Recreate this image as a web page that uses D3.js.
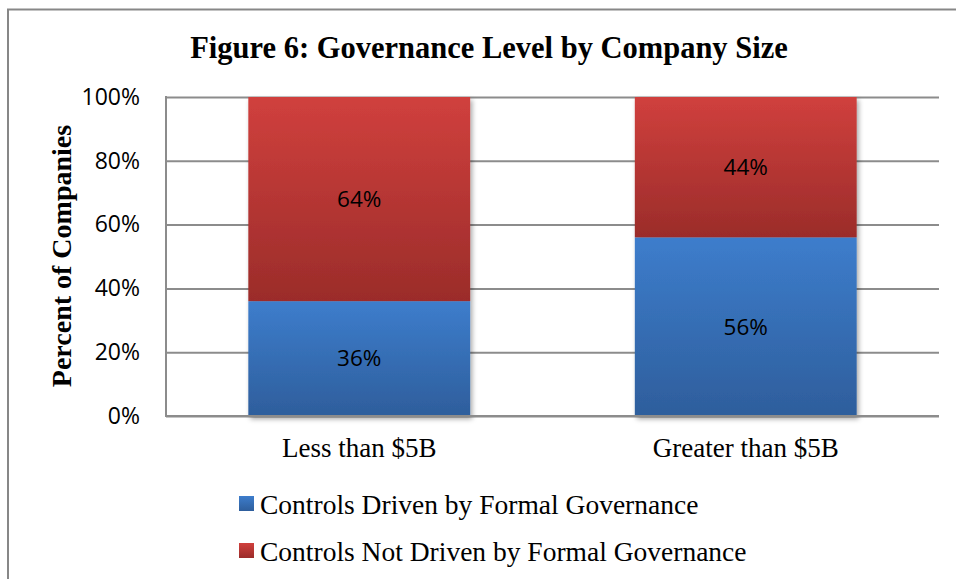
<!DOCTYPE html>
<html><head><meta charset="utf-8">
<script src="https://cdn.jsdelivr.net/npm/d3@7"></script>
<style>body{margin:0;background:#fff;overflow:hidden}</style>
</head><body><svg id="c" width="956" height="579"></svg>
<script>
const title = "Figure 6: Governance Level by Company Size";
const yAxisTitle = "Percent of Companies";
const categories = ["Less than $5B", "Greater than $5B"];
const seriesNames = ["Controls Driven by Formal Governance", "Controls Not Driven by Formal Governance"];
const drivenValues = [36, 56];
const notDrivenValues = [64, 44];
const yTickValues = [0, 20, 40, 60, 80, 100];

const svg = d3.select("#c");
const plot = {left: 166, right: 939, top: 97, bottom: 416};

// outer chart border (clipped at right/bottom in reference)
svg.append("rect").attr("x", 8).attr("y", 9.5).attr("width", 960).attr("height", 600)
  .attr("fill", "none").attr("stroke", "#878787").attr("stroke-width", 2);

const defs = svg.append("defs");
function grad(id, top, bottom) {
  const g = defs.append("linearGradient").attr("id", id).attr("x1", 0).attr("y1", 0).attr("x2", 0).attr("y2", 1);
  g.append("stop").attr("offset", "0%").attr("stop-color", top);
  g.append("stop").attr("offset", "100%").attr("stop-color", bottom);
}
grad("gBlue", "#3d7dcc", "#2e5e9c");
grad("gRed", "#d0403d", "#9b2c2a");
const f = defs.append("filter").attr("id", "shadow").attr("x", "-10%").attr("y", "-10%").attr("width", "130%").attr("height", "130%");
f.append("feDropShadow").attr("dx", 2).attr("dy", 3).attr("stdDeviation", 2.5).attr("flood-color", "#000").attr("flood-opacity", 0.35);

const x = d3.scaleBand().domain(categories).range([plot.left, plot.right]).paddingInner(0.426).paddingOuter(0.213);
const y = d3.scaleLinear().domain([0, 100]).range([plot.bottom, plot.top]);

// gridlines + y axis
const yAxis = d3.axisLeft(y).tickValues(yTickValues).tickFormat(d => d + "%")
  .tickSize(-(plot.right - plot.left)).tickPadding(26);
const ga = svg.append("g").attr("transform", `translate(${plot.left},0)`).call(yAxis);
ga.select(".domain").remove();
ga.selectAll(".tick line").attr("stroke", "#8c8c8c").attr("stroke-width", 2);
ga.selectAll(".tick text").attr("fill", "#000").style("font-family", "'Open Sans', sans-serif").style("font-size", "23px");
svg.append("line").attr("x1", plot.left).attr("x2", plot.left).attr("y1", plot.top - 1).attr("y2", plot.bottom + 1)
  .attr("stroke", "#8c8c8c").attr("stroke-width", 2);

// stacked bars
const rows = categories.map((c, i) => ({cat: c, vals: [drivenValues[i], notDrivenValues[i]]}));
const fills = ["url(#gBlue)", "url(#gRed)"];
const barG = svg.append("g");
rows.forEach(r => {
  const g = barG.append("g").attr("filter", "url(#shadow)");
  let cum = 0;
  r.vals.forEach((v, k) => {
    g.append("rect").attr("x", x(r.cat)).attr("width", x.bandwidth())
      .attr("y", y(cum + v)).attr("height", y(cum) - y(cum + v)).attr("fill", fills[k]);
    cum += v;
  });
});
svg.append("line").attr("x1", plot.left).attr("x2", plot.right).attr("y1", plot.bottom).attr("y2", plot.bottom)
  .attr("stroke", "#8c8c8c").attr("stroke-width", 2);

// data labels
rows.forEach(r => {
  let cum = 0;
  r.vals.forEach(v => {
    svg.append("text").attr("x", x(r.cat) + x.bandwidth() / 2).attr("y", y(cum + v / 2))
      .attr("dy", "0.35em").attr("text-anchor", "middle")
      .style("font-family", "'Open Sans', sans-serif").style("font-size", "22.5px").attr("fill", "#000")
      .text(v + "%");
    cum += v;
  });
});

// category labels
svg.selectAll(".cat").data(categories).enter().append("text")
  .attr("x", d => x(d) + x.bandwidth() / 2).attr("y", 457).attr("text-anchor", "middle")
  .style("font-family", "'Liberation Serif', serif").style("font-size", "27px").text(d => d);

// title
svg.append("text").attr("x", 489).attr("y", 58).attr("text-anchor", "middle")
  .style("font-family", "'Liberation Serif', serif").style("font-weight", "bold").style("font-size", "30.5px")
  .text(title);

// y-axis title
svg.append("text").attr("transform", "rotate(-90)").attr("x", -256).attr("y", 71).attr("text-anchor", "middle")
  .style("font-family", "'Liberation Serif', serif").style("font-weight", "bold").style("font-size", "28px")
  .text(yAxisTitle);

// legend
const legendColors = ["url(#gBlue)", "url(#gRed)"];
const lg = svg.selectAll(".lg").data(seriesNames).enter().append("g")
  .attr("transform", (d, i) => `translate(239,${504 + i * 47})`);
lg.append("rect").attr("x", 0).attr("y", -8).attr("width", 15).attr("height", 15).attr("fill", (d, i) => legendColors[i]);
lg.append("text").attr("x", 21).attr("y", 0).attr("dy", "0.35em")
  .style("font-family", "'Liberation Serif', serif").style("font-size", "27.5px").text(d => d);
</script></body></html>
